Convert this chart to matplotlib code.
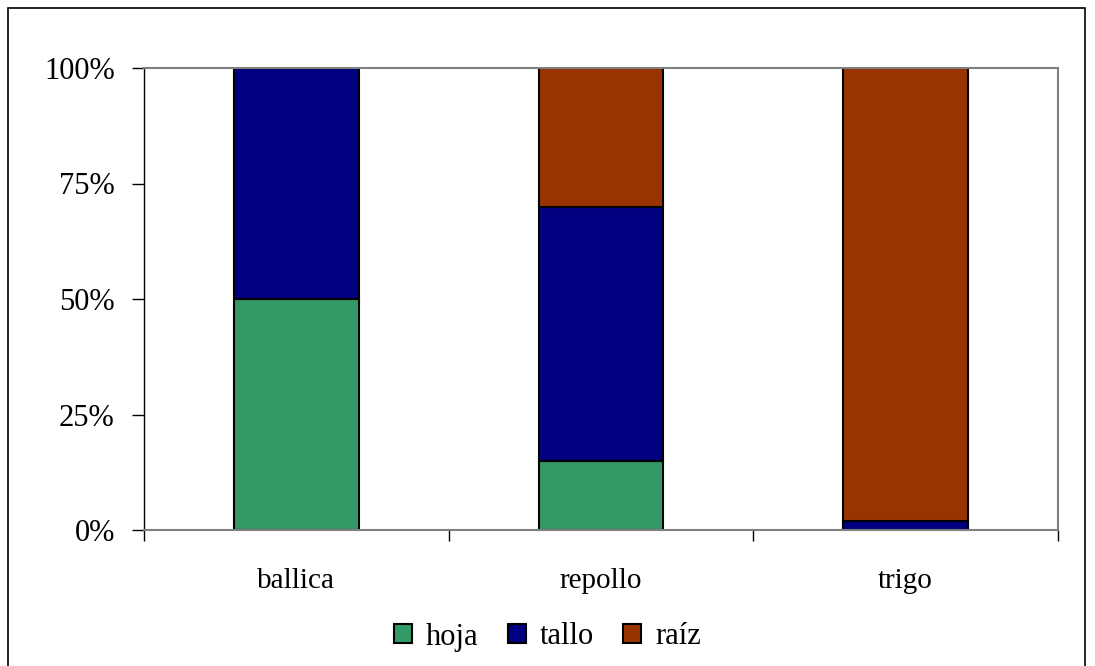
import matplotlib.pyplot as plt
from matplotlib.patches import Rectangle

plt.rcParams['font.family'] = ['Liberation Serif', 'DejaVu Serif']

categorias = ['ballica', 'repollo', 'trigo']
hoja = [50, 15, 0]
tallo = [50, 55, 2]
raiz = [0, 30, 98]
series = [('hoja', hoja, '#339966'), ('tallo', tallo, '#000080'), ('raíz', raiz, '#993300')]

fig = plt.figure(figsize=(10.95, 6.66), dpi=100)
ax = fig.add_axes([144 / 1095, 1 - 530 / 666, 914 / 1095, 462 / 666])

x = list(range(len(categorias)))
base = [0] * len(categorias)
for nombre, vals, color in series:
    ax.bar(x, vals, bottom=base, width=0.41, color=color, edgecolor='black',
           linewidth=1.5, label=nombre)
    base = [b + v for b, v in zip(base, vals)]

ax.set_xlim(-0.5, 2.5)
ax.set_ylim(0, 100)
ax.set_yticks([0, 25, 50, 75, 100])
ax.set_yticklabels(['0%', '25%', '50%', '75%', '100%'], fontsize=22)
ax.set_xticks([-0.5, 0.5, 1.5, 2.5])
ax.set_xticklabels([])
ax.set_xticks(x, minor=True)
ax.set_xticklabels(categorias, minor=True, fontsize=21)
ax.tick_params(axis='x', which='minor', length=0, pad=27)
ax.tick_params(axis='x', which='major', length=8, width=1, color='black', direction='out')
ax.tick_params(axis='y', length=9, width=1, direction='out', pad=12)

for lado in ['top', 'right', 'bottom']:
    ax.spines[lado].set_color('#808080')
    ax.spines[lado].set_linewidth(1.5)
ax.spines['left'].set_color('black')
ax.spines['left'].set_linewidth(1)

leg = fig.legend(loc='center', bbox_to_anchor=(0.5, 1 - 637 / 666), ncol=3,
                 frameon=False, fontsize=22, handlelength=0.6, handleheight=0.6,
                 handletextpad=0.45, columnspacing=0.95)

fig.patches.append(Rectangle((8 / 1095, -0.05), 1077 / 1095, 1.05 - 8 / 666,
                             transform=fig.transFigure, fill=False,
                             edgecolor='black', linewidth=1.2))

fig.savefig('out.png', dpi=100)
